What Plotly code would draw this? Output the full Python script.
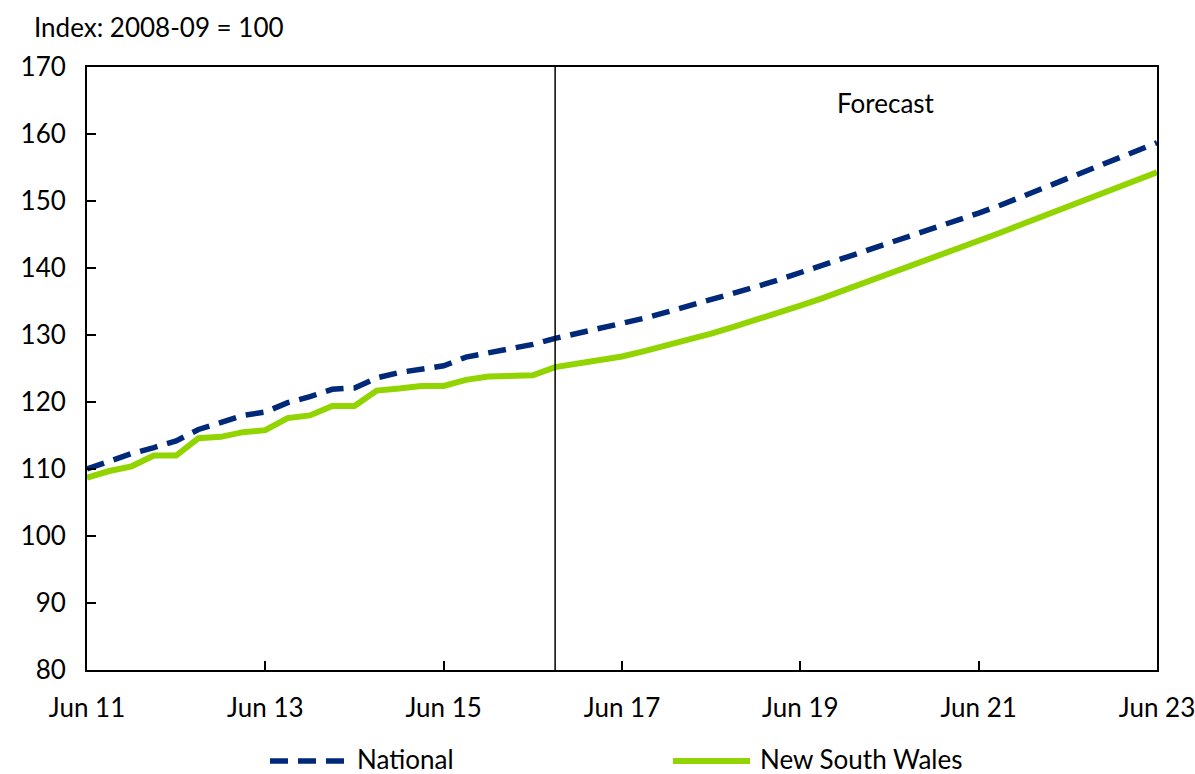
import plotly.graph_objects as go

# Quarterly categories Jun 11 .. Jun 23
months = ["Jun", "Sep", "Dec", "Mar"]
quarters = []
for i in range(49):
    m = months[i % 4]
    yr = 11 + (i + 2) // 4
    quarters.append(f"{m} {yr:02d}")

tick_labels = ["Jun 11", "Jun 13", "Jun 15", "Jun 17", "Jun 19", "Jun 21", "Jun 23"]
forecast_start = "Sep 16"

national = [
    110.0, 111.2, 112.3, 113.2, 114.2, 115.9, 117.0, 118.0, 118.5, 119.9,
    120.8, 121.9, 122.1, 123.6, 124.4, 124.9, 125.4, 126.7, 127.3, 127.9,
    128.6, 129.5, 130.2, 130.9, 131.6, 132.5, 133.4, 134.3, 135.2, 136.2,
    137.2, 138.2, 139.3, 140.3, 141.4, 142.5, 143.6, 144.7, 145.8, 147.0,
    148.2, 149.4, 150.7, 152.0, 153.3, 154.6, 156.0, 157.3, 158.7,
]

nsw = [
    108.7, 109.7, 110.4, 112.0, 112.0, 114.6, 114.8, 115.5, 115.8, 117.6,
    118.0, 119.4, 119.4, 121.7, 122.0, 122.4, 122.4, 123.3, 123.8, 124.0,
    124.0, 125.2, 125.7, 126.2, 126.8, 127.6, 128.4, 129.3, 130.2, 131.2,
    132.2, 133.3, 134.4, 135.5, 136.7, 137.9, 139.1, 140.3, 141.5, 142.7,
    144.0, 145.3, 146.6, 147.9, 149.2, 150.5, 151.8, 153.1, 154.3,
]

series_names = ["National", "New South Wales"]

FONT = "Lato, 'Open Sans', sans-serif"
FS = 26
NAVY = "#00297A"
GREEN = "#92D400"
NAT_LINE = dict(color=NAVY, width=5.5, dash="18px,10px")
NSW_LINE = dict(color=GREEN, width=6)

# plot area in pixels
L, R, T, B = 87, 1157, 67, 670
W, H = R - L, B - T


def px(xp):
    return (xp - L) / W


def py(yp):
    return (B - yp) / H


fig = go.Figure()
fig.add_trace(go.Scatter(x=quarters, y=national, mode="lines",
                         name=series_names[0], line=NAT_LINE))
fig.add_trace(go.Scatter(x=quarters, y=nsw, mode="lines",
                         name=series_names[1], line=NSW_LINE))

fs_idx = quarters.index(forecast_start)
fig.add_shape(type="line", xref="x", yref="paper",
              x0=fs_idx, x1=fs_idx, y0=0, y1=1,
              line=dict(color="black", width=1.5))

fig.add_annotation(text="Forecast", xref="paper", yref="paper",
                   x=px(886), y=py(103), xanchor="center", yanchor="middle",
                   showarrow=False, font=dict(family=FONT, size=FS, color="black"))

fig.add_annotation(text="Index: 2008-09 = 100", xref="paper", yref="paper",
                   x=px(32), y=py(27), xanchor="left", yanchor="middle",
                   showarrow=False, font=dict(family=FONT, size=FS, color="black"))

# legend (drawn manually to match long samples)
leg_y = 759
for name, style, x0, x1, tx in [
    (series_names[0], NAT_LINE, 270, 346, 355),
    (series_names[1], NSW_LINE, 673, 750, 758),
]:
    fig.add_shape(type="line", xref="paper", yref="paper",
                  x0=px(x0), x1=px(x1), y0=py(leg_y + 2), y1=py(leg_y + 2),
                  line=style)
    fig.add_annotation(text=name, xref="paper", yref="paper",
                       x=px(tx), y=py(leg_y), xanchor="left", yanchor="middle",
                       showarrow=False,
                       font=dict(family=FONT, size=FS, color="black"))

fig.update_layout(
    width=1195, height=774,
    margin=dict(l=L, r=1195 - R, t=T, b=774 - B),
    paper_bgcolor="white", plot_bgcolor="white",
    font=dict(family=FONT, size=FS, color="black"),
    showlegend=False,
)

fig.update_xaxes(
    type="category", categoryorder="array", categoryarray=quarters,
    range=[0, len(quarters) - 1],
    tickmode="array", tickvals=tick_labels, ticktext=tick_labels,
    ticks="inside", ticklen=9, tickwidth=1.5, tickcolor="black",
    showline=True, linecolor="black", linewidth=2, mirror=True,
    showgrid=False, zeroline=False, ticklabelstandoff=14, automargin=False,
)
fig.update_yaxes(
    range=[80, 170], dtick=10, tick0=80,
    ticks="inside", ticklen=9, tickwidth=1.5, tickcolor="black",
    showline=True, linecolor="black", linewidth=2, mirror=True,
    showgrid=False, zeroline=False, ticklabelstandoff=14, automargin=False,
)

fig.write_html(
    "out.html",
    config={"displayModeBar": False},
    post_script="document.body.style.margin='0';document.body.style.overflow='hidden';",
)
